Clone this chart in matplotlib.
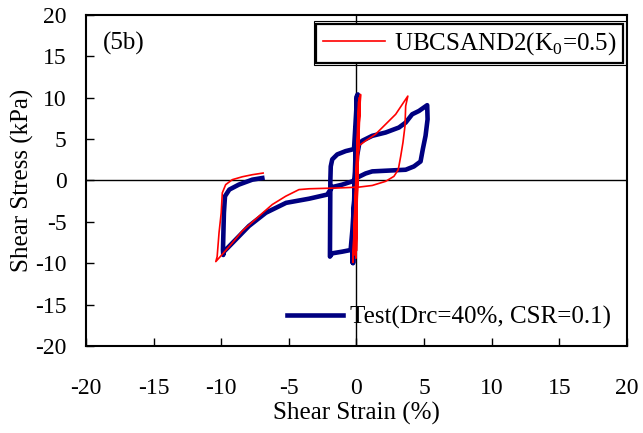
import numpy as np
import matplotlib
matplotlib.use('Agg')
from matplotlib import pyplot as plt
from matplotlib.patches import Rectangle

plt.rcParams['font.family'] = ['Liberation Serif', 'DejaVu Serif']
plt.rcParams['mathtext.fontset'] = 'custom'
plt.rcParams['mathtext.rm'] = 'Liberation Serif'
plt.rcParams['axes.unicode_minus'] = False

# measured test loop (strain %, stress kPa)
test_strain = [0.0, 0.05, -0.3, 0.1, -0.25, 0.05, -0.1, -0.18, -0.8, -1.42, -1.79, -1.9, -1.93, -1.96,
               -1.79, -1.05, -0.43, -0.3, 0.05, 0.2, 0.43, 1.17, 2.16, 3.14, 3.64, 4.12, 4.62, 5.23,
               5.26, 5.11, 4.91, 4.74, 4.25, 3.64, 1.17, 0.68, 0.18, -0.3, -1.05, -1.8, -2.16, -3.5,
               -5.2, -6.7, -7.95, -9.2, -9.8, -9.85, -9.87, -9.8, -9.72, -9.4, -8.7, -7.7, -6.96]
test_stress = [0.0, 10.2, -9.9, 10.4, -10.0, 10.3, 6.0, 3.8, 3.55, 3.15, 2.55, 1.7, 0.0, -9.2,
               -8.8, -8.6, -8.4, -6.0, 3.0, 4.4, 4.8, 5.4, 5.8, 6.4, 7.0, 8.0, 8.4, 9.1,
               7.4, 5.4, 3.8, 2.3, 1.7, 1.3, 1.1, 0.85, 0.45, -0.1, -0.5, -0.8, -1.7, -2.2,
               -2.7, -3.9, -5.5, -7.6, -8.6, -9.0, -8.4, -3.9, -1.9, -1.1, -0.5, 0.1, 0.3]

# UBCSAND2 simulation
model_strain = [0.0, 0.3, -0.15, 0.25, -0.05, 0.2, -0.26, 0.15, 0.0, 0.1, 0.18, 0.68, 1.42, 2.16,
                2.9, 3.39, 3.8, 3.64, 3.59, 3.44, 3.27, 3.09, 2.77, 2.16, 1.17, 0.18, -1.3, -3.5,
                -4.25, -5.23, -6.22, -7.2, -8.44, -9.42, -10.4, -10.3, -10.16, -10.0, -9.92,
                -9.67, -9.18, -8.44, -7.7, -6.9]
model_stress = [0.0, 10.4, -9.0, 10.2, -9.4, 10.0, -9.9, 9.5, -8.5, 3.0, 4.2, 4.8, 5.6, 6.8,
                8.0, 9.2, 10.2, 9.0, 6.6, 4.6, 2.9, 1.3, 0.5, -0.1, -0.6, -0.8, -0.9, -1.0,
                -1.1, -1.9, -2.9, -4.3, -6.1, -8.0, -9.8, -9.2, -6.3, -3.9, -1.5,
                -0.5, 0.1, 0.45, 0.7, 0.9]

ticks = np.arange(-20, 25, 5)

fig = plt.figure(figsize=(6.43, 4.33), dpi=100)
ax = fig.add_axes([0.1337, 0.2009, 0.8413, 0.7645])

ax.axhline(0, color='black', lw=1)
ax.axvline(0, color='black', lw=1)
l_test, = ax.plot(test_strain, test_stress, color='#000080', lw=3.3, label='Test(Drc=40%, CSR=0.1)')
l_model, = ax.plot(model_strain, model_stress, color='#ff0000', lw=1.2, label='UBCSAND2(K$_\\mathrm{0}$=0.5)')

ax.set_xlim(-20, 20)
ax.set_ylim(-20, 20)
ax.set_xticks(ticks)
ax.set_yticks(ticks)
ax.tick_params(direction='in', length=6, width=1, labelsize=17)
ax.tick_params(axis='x', pad=23)
ax.tick_params(axis='y', pad=14)
for s in ax.spines.values():
    s.set_linewidth(1.5)

ax.set_xlabel('Shear Strain (%)', fontsize=18, labelpad=2)
ax.set_ylabel('Shear Stress (kPa)', fontsize=18, labelpad=1)

ax.text(0.031, 0.915, '(5b)', transform=ax.transAxes, fontsize=18, va='center')

leg1 = ax.legend(handles=[l_model], loc='upper right', bbox_to_anchor=(0.993, 0.974),
                 borderaxespad=0, fontsize=18, fancybox=False, edgecolor='black',
                 framealpha=1, handlelength=2.5, handletextpad=0.36, borderpad=0.25)
leg1.get_frame().set_linewidth(1.6)
ax.add_artist(leg1)
ax.legend(handles=[l_test], loc='center left', bbox_to_anchor=(0.371, 0.085),
          borderaxespad=0, borderpad=0, frameon=False, fontsize=18,
          handlelength=2.25, handletextpad=0.28)

# thin outer line round the upper legend (double border)
fig.canvas.draw()
bb = leg1.get_frame().get_window_extent(fig.canvas.get_renderer())
bb = bb.expanded((bb.width + 5) / bb.width, (bb.height + 5) / bb.height)
bb = bb.transformed(fig.transFigure.inverted())
fig.add_artist(Rectangle((bb.x0, bb.y0), bb.width, bb.height, transform=fig.transFigure,
                         fill=False, edgecolor='black', lw=0.8, zorder=10))

plt.savefig('out.png', dpi=100)
